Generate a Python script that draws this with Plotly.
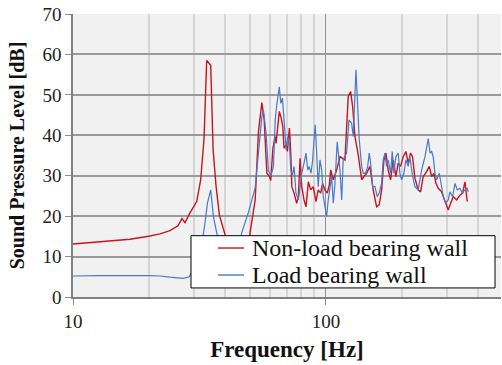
import plotly.graph_objects as go

# Non-load bearing wall (red)
red_f = [10, 12.8, 16.8, 20.15, 22.07, 24.17, 26.0, 26.97, 27.72, 29.0, 30.83, 31.97, 32.95,
         33.77, 34.33, 35.02, 35.8, 36.79, 37.9, 39.3, 41.8, 45.8, 48.3, 50.1, 52.5, 54.1,
         55.8, 57.0, 58.4, 59.8, 60.5, 61.7, 62.96, 63.5, 64.3, 65.4, 66.6, 67.5, 68.3, 69.6,
         70.4, 71.7, 72.6, 73.3, 74.8, 76.6, 77.8, 79.0, 80.2, 81.9, 83.4, 85.2, 87.0, 89.1,
         91.3, 93.2, 95.3, 97.0, 99.1, 101.2, 103.1, 104.4, 106.9, 110.2, 113.6, 118.9, 122.5,
         125.2, 127.5, 130.2, 134.2, 138.4, 141.3, 144.8, 149.2, 153.7, 158.6, 162.4, 166.0,
         169.5, 172.6, 176.2, 180.1, 184.4, 189.0, 193.0, 197.3, 202.0, 207.0, 211.4, 215.9,
         219.9, 224.7, 231.5, 236.6, 242.3, 250.1, 256.1, 261.7, 267.3, 272.2, 278.0, 286.6,
         295.4, 304.4, 311.1, 318.6, 328.6, 338.6, 347.0, 354.4, 360.0, 362.0]
red_db = [13.1, 13.6, 14.3, 15.1, 15.6, 16.4, 17.6, 19.4, 18.4, 20.8, 23.6, 29.0, 39.0,
          58.5, 58.0, 57.3, 36.4, 27.3, 20.3, 16.6, 11.0, 8.0, 10.0, 15.8, 24.0, 40.9,
          48.1, 43.8, 30.6, 29.8, 28.8, 36.8, 39.7, 38.0, 42.2, 45.9, 44.2, 42.2, 36.8, 37.6,
          36.0, 41.8, 35.6, 27.3, 25.7, 23.2, 24.8, 34.3, 27.3, 24.0, 22.3, 28.5, 26.5, 27.3,
          23.6, 26.5, 25.7, 28.1, 26.5, 25.7, 27.7, 31.4, 29.0, 31.4, 34.7, 33.9, 49.6,
          50.8, 47.1, 39.7, 35.1, 29.0, 29.8, 30.6, 32.3, 26.5, 22.3, 22.8, 26.5,
          33.9, 35.6, 31.4, 29.0, 33.9, 29.8, 33.1, 32.3, 34.7, 36.0, 33.1, 35.6,
          34.7, 29.4, 26.5, 26.0, 29.8, 31.0, 32.3, 29.8, 30.6, 28.1, 26.9, 26.0,
          23.6, 21.5, 23.2, 24.8, 24.0, 25.2, 25.7, 28.5, 24.8, 23.6]

# Load bearing wall (blue)
blue_f = [10, 12.8, 20.15, 22.07, 24.17, 27.3, 28.8, 30.6, 32.3, 32.8, 33.2, 34.0, 35.02,
          35.9, 36.9, 38.1, 41.8, 45.0, 46.4, 49.4, 52.5, 54.1, 55.8, 56.6, 58.0, 59.2, 60.5,
          62.0, 63.0, 63.9, 64.8, 65.4, 66.3, 67.3, 68.3, 69.6, 70.6, 71.7, 72.6, 73.7, 74.8,
          76.1, 77.8, 79.0, 80.2, 81.9, 83.4, 84.7, 85.9, 87.3, 88.6, 89.7, 90.7, 91.9, 93.2,
          94.7, 96.2, 97.6, 99.1, 100.6, 102.1, 103.7, 105.3, 106.9, 108.5, 110.8, 113.6,
          115.4, 117.0, 120.7, 123.3, 126.3, 128.2, 131.4, 133.0, 135.4, 138.4, 140.4, 143.5,
          146.2, 148.3, 150.2, 152.9, 156.2, 159.5, 162.4, 166.0, 168.4, 171.0, 173.7, 176.2,
          180.1, 182.8, 185.6, 189.0, 193.0, 196.0, 199.1, 203.3, 207.0, 211.4, 214.6, 219.9,
          224.7, 231.5, 238.8, 246.3, 250.1, 253.8, 257.8, 261.7, 265.5, 269.7, 273.9, 280.5,
          286.6, 290.8, 297.3, 304.4, 309.1, 316.8, 323.6, 330.4, 338.6, 345.7, 354.4, 362.0,
          364.9]
blue_db = [5.2, 5.3, 5.3, 5.2, 4.9, 4.6, 5.0, 8.0, 13.0, 16.6, 18.0, 23.2, 26.5,
           19.9, 15.8, 12.0, 7.0, 9.0, 15.8, 21.0, 27.0, 36.4, 44.6, 46.3, 40.5, 31.4, 29.8,
           32.3, 43.8, 47.5, 50.4, 52.0, 47.9, 49.2, 43.8, 36.4, 39.7, 38.0, 31.4, 30.2, 32.3,
           25.7, 24.0, 27.3, 30.6, 33.1, 35.6, 31.4, 32.3, 30.6, 33.9, 38.9, 42.6, 35.6, 27.3,
           33.9, 31.4, 24.8, 22.3, 19.9, 24.0, 27.3, 29.8, 23.2, 28.0, 38.4, 31.4,
           24.0, 33.9, 35.6, 43.8, 43.0, 39.7, 56.2, 47.9, 38.9, 32.3, 30.6, 30.6,
           32.3, 35.6, 33.1, 27.3, 27.3, 24.8, 25.7, 28.1, 33.9, 35.6, 32.3, 33.9,
           30.6, 36.0, 30.6, 34.7, 35.6, 30.6, 29.0, 30.6, 33.9, 32.3, 34.7, 30.0,
           27.3, 26.5, 31.4, 34.7, 37.2, 39.2, 35.6, 36.0, 34.7, 30.6, 29.0, 30.6,
           27.3, 24.8, 23.2, 24.0, 26.0, 24.8, 28.1, 26.5, 26.9, 25.7, 26.5, 26.9,
           26.0]

series_names = ["Non-load bearing wall", "Load bearing wall"]
series_colors = ["#c8141e", "#4a78cc"]
x_ticks = [10, 100]
x_minor = [20, 30, 40, 50, 60, 70, 80, 90, 200, 300, 400]

SERIF = "Liberation Serif"

fig = go.Figure()
fig.add_trace(go.Scatter(x=red_f, y=red_db, mode="lines", name=series_names[0],
                         line=dict(color=series_colors[0], width=1.4)))
fig.add_trace(go.Scatter(x=blue_f, y=blue_db, mode="lines", name=series_names[1],
                         line=dict(color=series_colors[1], width=1.2)))

# Legend drawn as a boxed key in paper coordinates (opaque, above the traces)
box = dict(x0=0.2757, x1=0.986, y0=0.032, y1=0.2166)
fig.add_shape(type="rect", xref="paper", yref="paper", layer="above",
              fillcolor="white", line=dict(color="black", width=1), **box)
row_y = [0.1731, 0.0777]
for name, color, yy in zip(series_names, series_colors, row_y):
    fig.add_shape(type="line", xref="paper", yref="paper", layer="above",
                  x0=0.3388, x1=0.3995, y0=yy, y1=yy, line=dict(color=color, width=1.4))
    fig.add_annotation(xref="paper", yref="paper", x=0.4135, y=yy, xanchor="left",
                       yanchor="middle", text=name, showarrow=False,
                       font=dict(family=SERIF, size=24, color="#111"))

fig.update_layout(
    width=502, height=365,
    margin=dict(l=73, r=1, t=14, b=68),
    paper_bgcolor="white", plot_bgcolor="#f1f1f1",
    font=dict(family=SERIF, color="#222", size=19),
    showlegend=False,
)
fig.update_xaxes(type="log", range=[1, 2.692],
                 tickmode="array", tickvals=x_ticks, ticktext=[str(v) for v in x_ticks],
                 ticks="outside", ticklen=6, tickcolor="#8c8c8c",
                 showgrid=True, gridcolor="#909090", gridwidth=1.4,
                 minor=dict(tickmode="array", tickvals=x_minor, showgrid=True,
                            gridcolor="#d6d6d6", gridwidth=2, ticks=""),
                 showline=True, linecolor="#808080", linewidth=1.5,
                 zeroline=False,
                 title=dict(text="<b>Frequency [Hz]</b>", font=dict(size=23, family=SERIF, color="#111"),
                            standoff=10),
                 tickfont=dict(size=19, family=SERIF, color="#222"))
fig.update_yaxes(range=[0, 70], dtick=10, tick0=0,
                 ticks="outside", ticklen=6, tickcolor="#8c8c8c",
                 showgrid=True, gridcolor="#9a9a9a", gridwidth=1.8,
                 showline=True, linecolor="#808080", linewidth=1.5,
                 zeroline=False,
                 title=dict(text="<b>Sound Pressure Level [dB]</b>", font=dict(size=20, family=SERIF, color="#111"),
                            standoff=12),
                 tickfont=dict(size=19, family=SERIF, color="#222"))

fig.write_html("out.html")
